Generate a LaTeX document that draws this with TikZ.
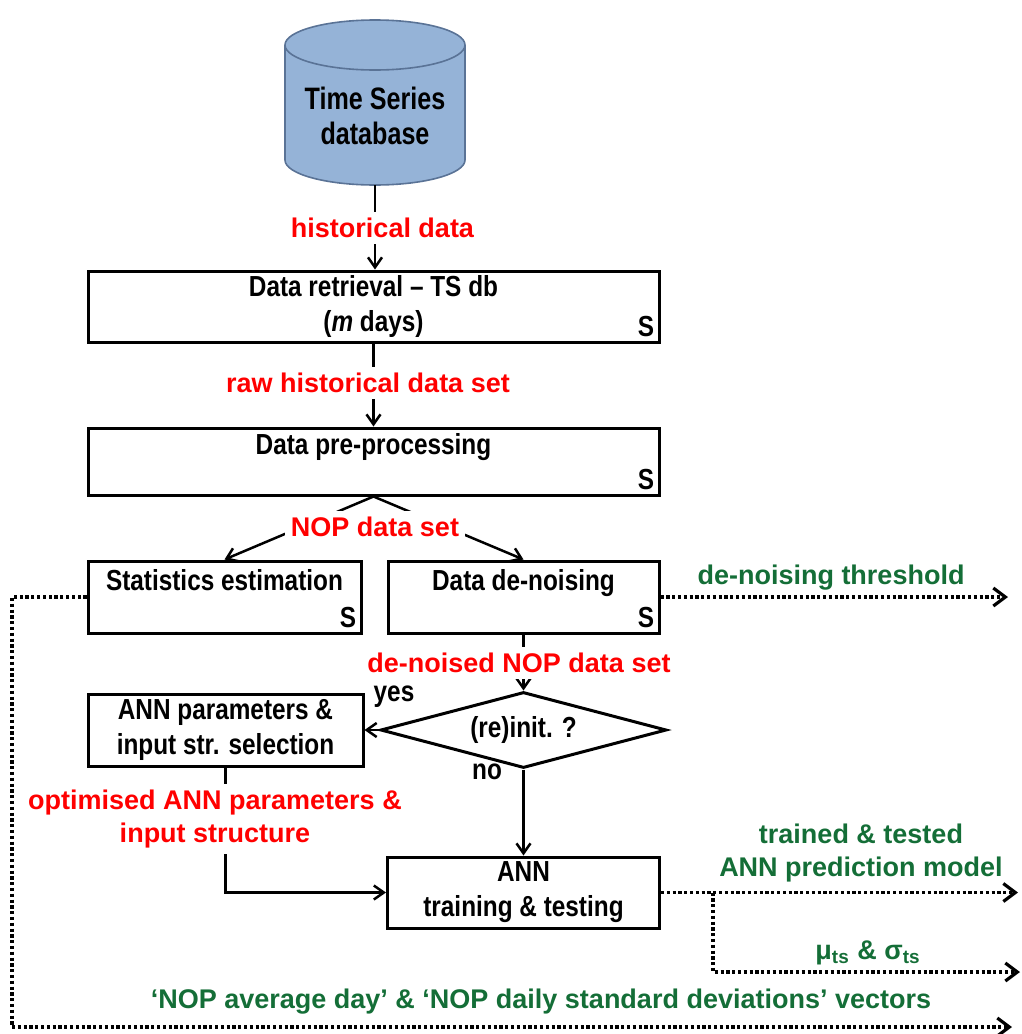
\documentclass[tikz,border=0pt]{standalone}
\usepackage{fontspec}
\setmainfont{Liberation Sans}
\newfontfamily\narrowfont{Liberation Sans}[FakeStretch=0.84]
\newfontfamily\dbfont{Liberation Sans}[FakeStretch=0.81]
\usetikzlibrary{arrows.meta,shapes.geometric}
\definecolor{flowred}{RGB}{255,0,0}
\definecolor{flowgreen}{RGB}{20,110,55}
\definecolor{dbfill}{RGB}{149,179,215}
\definecolor{dbline}{RGB}{90,115,150}
\newcommand\flowboxfont{\narrowfont\bfseries\fontsize{14.5}{17.5}\selectfont}
\newcommand\flowlabfont{\bfseries\fontsize{13.5}{16.5}\selectfont}
\begin{document}
\begin{tikzpicture}[x=0.5pt,y=-0.5pt,
  procbox/.style={draw, line width=1.5pt, inner sep=0pt, align=center, font=\flowboxfont},
  sflag/.style={anchor=south east, inner sep=3pt, font=\flowboxfont},
  decision/.style={diamond, draw, line width=1.5pt, aspect=3.76, minimum width=143pt,
    minimum height=38pt, inner sep=0pt, font=\flowboxfont},
  arr/.style={line width=1.25pt, -{Straight Barb[length=5pt,width=7pt]}},
  dotarr/.style={line width=1.7pt, dash pattern=on 1.6pt off 1.3pt,
    -{Straight Barb[length=6pt,width=9pt,line width=1.6pt]}},
  flowlab/.style={fill=white, inner sep=3pt, text=flowred, font=\flowlabfont, align=center},
  outlab/.style={inner sep=1pt, text=flowgreen, font=\flowlabfont, align=center},
  plaintext/.style={inner sep=0pt, font=\flowboxfont}]
\useasboundingbox (0,0) rectangle (1022,1034);

% time series database cylinder
\fill[dbfill] (285,45) -- (285,160)
  arc[start angle=180,end angle=360,x radius=45pt,y radius=12.5pt] -- (465,45)
  arc[start angle=0,end angle=180,x radius=45pt,y radius=12.5pt] -- cycle;
\draw[dbline, line width=0.8pt] (285,45) -- (285,160)
  arc[start angle=180,end angle=360,x radius=45pt,y radius=12.5pt] -- (465,45);
\draw[dbline, line width=0.8pt] (375,45) ellipse [x radius=45pt, y radius=12.5pt];
\node[font=\dbfont\bfseries\fontsize{15.5}{17.5}\selectfont, align=center] (dbname) at (375,115.5)
  {Time Series\\database};
\coordinate (dbbot) at (375,185);

% processing steps
\node[procbox, minimum width=285.5pt, minimum height=35.5pt, label={[sflag]south east:S}]
  (retrieve) at (373.5,306.5) {Data retrieval – TS db\\(\textit{m} days)};
\node[procbox, minimum width=285.5pt, minimum height=33.5pt, label={[sflag]south east:S}]
  (prep) at (373.5,461.5) {Data pre-processing\\\mbox{}};
\node[procbox, minimum width=136.5pt, minimum height=36pt, label={[sflag]south east:S}]
  (stats) at (224.5,597) {Statistics estimation\\\mbox{}};
\node[procbox, minimum width=135.5pt, minimum height=36pt, label={[sflag]south east:S}]
  (denoise) at (523.5,597) {Data de-noising\\\mbox{}};
\node[procbox, minimum width=137.5pt, minimum height=36pt]
  (annsel) at (225.5,730) {ANN parameters \&\\input str. selection};
\node[decision] (reinit) at (523.5,730) {(re)init. ?};
\node[procbox, minimum width=136pt, minimum height=35.5pt]
  (train) at (523.5,892.5) {ANN\\training \& testing};

% free ends of the output lines
\coordinate (thrEnd) at (1008,597);
\coordinate (modelEnd) at (1018,892.5);
\coordinate (split) at (713,892.5);
\coordinate (muEnd) at (1020,972);
\coordinate (vecCorner) at (12,1027);
\coordinate (vecEnd) at (1012,1027);

% data flow
\draw[arr] (dbbot) -- (dbbot |- retrieve.north);
\draw[arr] (retrieve.south) -- (prep.north);
\draw[arr] (prep.south) -- (stats.north);
\draw[arr] (prep.south) -- (denoise.north);
\draw[arr] (denoise.south) -- (reinit.north);
\draw[arr] (reinit.west) -- (annsel.east);
\draw[arr] (reinit.south) -- (train.north);
\draw[arr] (annsel.south) |- (train.west);

% outputs
\draw[dotarr] (denoise.east) -- (thrEnd);
\draw[dotarr] (train.east) -- (modelEnd);
\draw[dotarr] (split) |- (muEnd);
\draw[dotarr] (stats.west) -| (vecCorner) -- (vecEnd);

% flow labels
\node[flowlab] (labHist) at (382.5,228) {historical data};
\node[flowlab] (labRaw) at (368,383) {raw historical data set};
\node[flowlab] (labNop) at (375,527) {NOP data set};
\node[flowlab] (labDen) at (519,663) {de-noised NOP data set};
\node[flowlab] (labOpt) at (215,819) {optimised ANN parameters \&\\input structure};
\node[plaintext] (labYes) at (394,697) {yes};
\node[plaintext] (labNo) at (487,772) {no};

% output labels
\node[outlab] (labThr) at (831,578) {de-noising threshold};
\node[outlab] (labModel) at (861,853.5) {trained \& tested\\ANN prediction model};
\node[outlab] (labMu) at (868,953) {μ\textsubscript{ts} \& σ\textsubscript{ts}};
\node[outlab] (labVec) at (541,1002) {‘NOP average day’ \& ‘NOP daily standard deviations’ vectors};
\end{tikzpicture}
\end{document}
